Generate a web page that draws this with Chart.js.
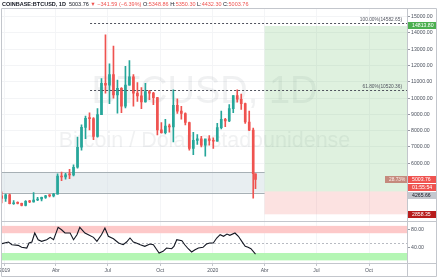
<!DOCTYPE html>
<html>
<head>
<meta charset="utf-8">
<script src="https://cdn.jsdelivr.net/npm/chart.js@4.4.1/dist/chart.umd.min.js"></script>
<style>
  html, body { margin: 0; padding: 0; background: #fff; }
  #wrap { position: relative; width: 439px; height: 280px; overflow: hidden; }
  #hdr { position: absolute; left: 2px; top: 1px; font: bold 5.5px "Liberation Sans", Arial, sans-serif; color: #131722; white-space: nowrap; }
  #hdr .dn { color: #ef5350; font-weight: normal; }
  #hdr .n { font-weight: normal; }
  canvas { display: block; }
</style>
</head>
<body>
<div id="wrap">
  <canvas id="chart" width="439" height="280"></canvas>
  <div id="hdr"></div>
</div>
<script>
// semanas de BTCUSD (dia 0 = 1 jan 2019)
const weekOpen  = [3990,3830,4050,3510,3540,3530,3410,3660,3620,3740,3800,3900,4000,3990,4100,5200,5150,5290,5280,5750,6980,8200,8750,8740,7650,8980,10900,10800,11450,10200,10600,9500,10800,11300,10300,10140,9760,10400,10300,10030,8050,7880,8280,8230,9550,9200,9050,8500,6900,7400,7500,7100,7500,7400,7350,8180,8700,8600,9350,10150,9930,9660,8530,8030,5348.86];
const weekHigh  = [4240,4100,4100,3700,3620,3550,3700,3710,4200,3900,3920,4020,4070,4150,5350,5460,5370,5620,5900,7600,8350,8900,9090,8800,9350,11200,13880,12100,13200,11100,10650,11950,12300,11450,10950,10650,10900,10480,10350,10050,8500,8700,8400,10500,9950,9500,9100,8530,7900,7750,7650,7450,7700,7550,8450,9200,8750,9600,10150,10500,10250,9700,9200,8150,5350.30];
const weekLow   = [3560,3650,3500,3460,3490,3380,3370,3570,3600,3690,3680,3840,3930,3930,4090,4930,5020,5050,5220,5700,6800,7500,8050,7450,7600,8980,10300,9650,10000,9070,9100,9400,10800,9500,9800,9350,9750,9900,9600,7730,7850,7800,7900,7300,9050,8700,8350,6800,6520,7150,7000,6430,7100,6900,7350,8100,8250,8550,9100,9750,9300,8450,7990,3850,4432.30];
const weekClose = [3830,4050,3510,3540,3530,3410,3660,3620,3740,3800,3900,4000,3990,4100,5200,5150,5290,5280,5750,6980,8200,8750,8740,7650,8980,10900,10800,11450,10200,10600,9500,10800,11300,10300,10140,9760,10400,10300,10030,8050,7880,8280,8230,9550,9200,9050,8500,6900,7400,7500,7100,7500,7400,7350,8180,8700,8600,9350,10150,9930,9660,8530,8030,5350,5003.76];
const firstWeekDay = -5;
const lastDay = 440;

// RSI
const rsiDays   = [-5,7,13,24,30,39,43,48,53,59,65,74,80,86,94,100,106,115,121,127,132,141,147,156,162,170,176,182,191,200,208,214,220,226,231,238,246,255,261,267,271,278,284,293,297,302,311,316,322,328,334,340,348,354,360,366,372,378,384,390,395,404,410,416,422,427,432,440];
const rsiValues = [48.7,52.4,46.5,45.2,40.9,39.3,50.2,52.4,72,57.4,53.9,57.4,62.6,57.4,84.3,79.1,72,72,57.4,68.3,84.3,72,68.3,62.6,53.9,68.3,82.8,64.8,59.6,50.2,46.5,52.4,61.1,52.4,50.2,46.5,43,48,46.5,35.7,28.5,32.2,39.3,37.8,43,57.4,55.2,46.5,37.8,30.7,35.7,39.3,40.9,48,50.2,50.2,61.1,68.3,64.8,69.8,67,72,64.8,53.9,43,40.9,37.8,26.3];

// ejes
const tickDays   = [0, 90, 181, 273, 365, 456, 547, 639];
const tickLabels = ['2019', 'Abr', 'Jul', 'Oct', '2020', 'Abr', 'Jul', 'Oct'];
const priceTicks = [15000, 14000, 13000, 12000, 11000, 10000, 9000, 8000, 7000, 6000];
const rsiTicks   = [80, 40];

// herramientas dibujadas
const lastPrice = 5003.76, entryPrice = 4265.66, stopPrice = 2858.35, targetPrice = 14813.80;
const targetTop = 14430;
const zoneHigh = 5450, zoneLow = 4185;
const toolStartDay = 456;
const fibStartDay = 150;
const fibLevels = [['100.00%', 14582.65], ['61.80%', 10520.36]];
const rsiBandHigh = [71.5, 87.5], rsiBandLow = [12.5, 28.5];
const countdown = '01:55:54', pctLabel = '28.73%';

const header = {sym: 'COINBASE:BTCUSD, 1D', last: '5003.76', chg: '\u25BC \u2212341.59 (\u22126.39%)', o: '5348.86', h: '5350.30', l: '4432.30', c: '5003.76'};
const wmTitle = 'BTCUSD, 1D', wmSub = 'Bitcoin / Dólar estadounidense';

const family = '"Liberation Sans", Arial, sans-serif';
const UP = '#26a69a', DOWN = '#ef5350';

document.getElementById('hdr').innerHTML =
  header.sym + '&nbsp; <span class="n">' + header.last + '</span> <span class="dn">' + header.chg + '</span>' +
  ' <span class="n">O:</span><span class="dn">' + header.o + '</span> <span class="n">H:</span><span class="dn">' + header.h +
  '</span> <span class="n">L:</span><span class="dn">' + header.l + '</span> <span class="n">C:</span><span class="dn">' + header.c + '</span>';

const candleDays = weekOpen.map((_, i) => i === weekOpen.length - 1 ? lastDay : firstWeekDay + 7 * i);
const candleColor = ctx => weekClose[ctx.dataIndex] >= weekOpen[ctx.dataIndex] ? UP : DOWN;

function hline(ctx, x0, x1, yy) { ctx.beginPath(); ctx.moveTo(x0, yy); ctx.lineTo(x1, yy); ctx.stroke(); }
function vline(ctx, xx, y0, y1) { ctx.beginPath(); ctx.moveTo(xx, y0); ctx.lineTo(xx, y1); ctx.stroke(); }
function tag(ctx, text, yc, x0, w, bg, fg) {
  ctx.fillStyle = bg;
  ctx.fillRect(x0, Math.round(yc - 3.5), w, 7);
  ctx.fillStyle = fg;
  ctx.textAlign = 'left';
  ctx.textBaseline = 'middle';
  ctx.fillText(text, x0 + 4, Math.round(yc - 3.5) + 3.8);
}

const overlay = {
  id: 'overlay',
  beforeDatasetsDraw(chart) {
    const {ctx, chartArea: a, scales: {x, y, rsi}} = chart;
    ctx.save();
    // marca de agua
    const cx = (a.left + a.right) / 2, ph = y.bottom - y.top;
    ctx.fillStyle = 'rgba(120,123,134,0.11)';
    ctx.textAlign = 'center';
    ctx.textBaseline = 'middle';
    ctx.font = '38px ' + family;
    ctx.fillText(wmTitle, cx, y.top + ph * 0.395);
    ctx.font = '21.5px ' + family;
    ctx.fillText(wmSub, cx, y.top + ph * 0.623);

    // zona
    const zR = x.getPixelForValue(toolStartDay);
    const zT = y.getPixelForValue(zoneHigh), zB = y.getPixelForValue(zoneLow);
    ctx.fillStyle = 'rgba(205,218,225,0.45)';
    ctx.fillRect(a.left, zT, zR - a.left, zB - zT);
    ctx.strokeStyle = '#a7b0b5';
    ctx.lineWidth = 1;
    hline(ctx, a.left, zR, Math.round(zT) + 0.5);
    hline(ctx, a.left, zR, Math.round(zB) + 0.5);

    // posicion larga
    const gT = y.getPixelForValue(targetTop), eY = y.getPixelForValue(entryPrice), sY = y.getPixelForValue(stopPrice);
    ctx.fillStyle = 'rgba(76,175,80,0.18)';
    ctx.fillRect(zR, gT, a.right - zR, eY - gT);
    ctx.fillStyle = 'rgba(239,83,80,0.17)';
    ctx.fillRect(zR, eY, a.right - zR, sY - eY);

    // bandas RSI
    const r1 = rsi.getPixelForValue(rsiBandHigh[1]), r0 = rsi.getPixelForValue(rsiBandHigh[0]);
    ctx.fillStyle = '#fdc9c9';
    ctx.fillRect(a.left, r1, a.right - a.left, r0 - r1);
    const g1 = rsi.getPixelForValue(rsiBandLow[1]), g0 = rsi.getPixelForValue(rsiBandLow[0]);
    ctx.fillStyle = '#b4f6b4';
    ctx.fillRect(a.left, g1, a.right - a.left, g0 - g1);
    ctx.strokeStyle = '#b8bbc2';
    ctx.setLineDash([2, 2]);
    hline(ctx, a.left, a.right, Math.round(rsi.getPixelForValue(50)) + 0.5);
    ctx.restore();
  },
  afterDatasetsDraw(chart) {
    const {ctx, chartArea: a, scales: {x, y}} = chart;
    ctx.save();
    const fx = x.getPixelForValue(fibStartDay);
    ctx.strokeStyle = '#50535e';
    ctx.lineWidth = 1;
    ctx.setLineDash([2, 2]);
    ctx.font = '4.8px ' + family;
    ctx.textAlign = 'right';
    ctx.textBaseline = 'bottom';
    fibLevels.forEach(([pct, val]) => {
      const py = Math.round(y.getPixelForValue(val)) + 0.5;
      hline(ctx, fx, a.right, py);
      ctx.fillStyle = '#50535e';
      ctx.fillText(pct + '(' + val.toFixed(2) + ')', a.right - 5, py - 1.5);
    });
    ctx.setLineDash([]);
    ctx.font = '4.8px ' + family;
    tag(ctx, pctLabel, y.getPixelForValue(lastPrice), a.right - 22, 22, '#c58a7d', '#fbefec');
    ctx.restore();
  },
  afterDraw(chart) {
    const {ctx, chartArea: a, scales: {x, y}} = chart;
    ctx.save();
    ctx.strokeStyle = '#c3c6cc';
    ctx.lineWidth = 1;
    const R = y.right + 0.5, B = x.bottom + 0.5, L = a.left - 0.5, T = a.top - 0.5;
    hline(ctx, L, R, T);
    hline(ctx, L, R, B);
    hline(ctx, L, R, Math.round(y.bottom) + 0.5);
    hline(ctx, L, R, a.bottom + 0.5);
    vline(ctx, L, T, B);
    vline(ctx, R, T, B);
    vline(ctx, a.right + 0.5, T, B);

    ctx.font = '5.2px ' + family;
    const ax = a.right + 1, w = y.right - a.right - 1;
    tag(ctx, targetPrice.toFixed(2), y.getPixelForValue(targetTop), ax, w, '#4caf50', '#ffffff');
    const lp = y.getPixelForValue(lastPrice);
    tag(ctx, lastPrice.toFixed(2), lp, ax, w, '#ef5350', '#ffffff');
    tag(ctx, countdown, lp + 8.3, ax, w, '#ef5350', '#ffffff');
    tag(ctx, entryPrice.toFixed(2), Math.max(y.getPixelForValue(entryPrice), lp + 16.6), ax, w, '#c4c8cf', '#131722');
    tag(ctx, stopPrice.toFixed(2), y.getPixelForValue(stopPrice), ax, w, '#b71c1c', '#ffffff');
    ctx.restore();
  }
};

const axisFont = {size: 5.2, family: family};

new Chart(document.getElementById('chart'), {
  type: 'bar',
  data: {
    datasets: [
      {
        label: 'mechas',
        data: candleDays.map((d, i) => ({x: d, y: [weekLow[i], weekHigh[i]]})),
        backgroundColor: candleColor,
        barThickness: 1,
        grouped: false,
        yAxisID: 'y'
      },
      {
        label: 'cuerpos',
        data: candleDays.map((d, i) => ({x: d, y: [weekOpen[i], weekClose[i]]})),
        backgroundColor: candleColor,
        barThickness: 2,
        minBarLength: 1,
        grouped: false,
        yAxisID: 'y'
      },
      {
        type: 'line',
        label: 'RSI',
        data: rsiDays.map((d, i) => ({x: d, y: rsiValues[i]})),
        borderColor: '#131722',
        borderWidth: 1.1,
        pointRadius: 0,
        tension: 0,
        yAxisID: 'rsi'
      }
    ]
  },
  options: {
    responsive: false,
    devicePixelRatio: 1,
    animation: false,
    layout: {padding: {top: 9, left: 2, right: 3, bottom: 4}},
    plugins: {legend: {display: false}, tooltip: {enabled: false}},
    scales: {
      x: {
        type: 'linear',
        offset: false,
        min: -4.4,
        max: 705.6,
        afterBuildTicks: s => { s.ticks = tickDays.map(v => ({value: v})); },
        afterFit: s => { s.height = 13; s.paddingLeft = 0; s.paddingRight = 0; },
        ticks: {callback: (v, i) => tickLabels[i], autoSkip: false, maxRotation: 0, font: {size: 5, family: family}, color: '#4c525e', padding: 2},
        grid: {offset: false, color: '#f4f5f7', tickLength: 3, tickColor: '#c3c6cc'},
        border: {display: false}
      },
      y: {
        position: 'right',
        stack: 'panes',
        stackWeight: 5.12,
        min: 2417,
        max: 15473,
        afterBuildTicks: s => { s.ticks = priceTicks.map(v => ({value: v})); },
        afterFit: s => { s.width = 29; s.paddingTop = 0; s.paddingBottom = 0; },
        ticks: {callback: v => v.toFixed(2), font: axisFont, color: '#4c525e', padding: 1},
        grid: {color: '#f3f4f6', tickLength: 3, tickColor: '#9598a1'},
        border: {display: false}
      },
      rsi: {
        position: 'right',
        stack: 'panes',
        stackWeight: 1,
        min: 6.8,
        max: 97,
        afterBuildTicks: s => { s.ticks = rsiTicks.map(v => ({value: v})); },
        afterFit: s => { s.width = 29; s.paddingTop = 0; s.paddingBottom = 0; },
        ticks: {callback: v => v.toFixed(2), font: axisFont, color: '#4c525e', padding: 1},
        grid: {drawOnChartArea: false, tickLength: 3, tickColor: '#9598a1'},
        border: {display: false}
      }
    }
  },
  plugins: [overlay]
});
</script>
</body>
</html>
